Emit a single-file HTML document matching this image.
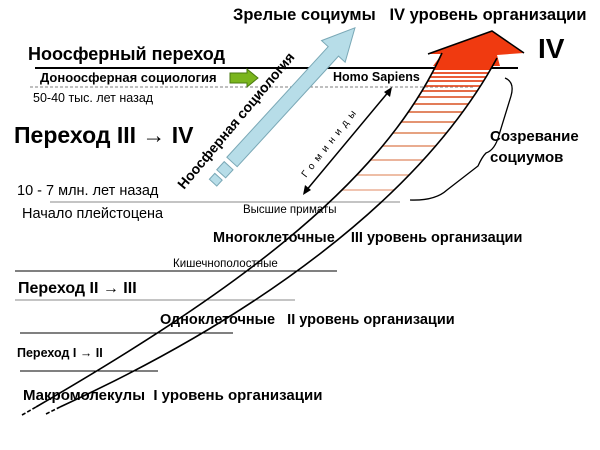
<!DOCTYPE html>
<html><head><meta charset="utf-8"><style>
html,body{margin:0;padding:0;background:#fff;}
svg{display:block;font-family:"Liberation Sans",Arial,sans-serif;}
text{white-space:pre;}
</style></head><body>
<svg width="600" height="450" viewBox="0 0 600 450" xmlns="http://www.w3.org/2000/svg">
<defs>
<clipPath id="band"><path d="M27,413 C220,300 380,190 442,53 L497,58 C420,200 250,320 50,413 Z"/></clipPath>
</defs>
<text x="233" y="20" font-size="16.5" font-weight="bold">Зрелые социумы   IV уровень организации</text>
<text x="538" y="58" font-size="28" font-weight="bold">IV</text>
<text x="28" y="60" font-size="18" font-weight="bold">Ноосферный переход</text>
<line x1="35" y1="68" x2="518" y2="68" stroke="#000" stroke-width="2"/>
<line x1="30" y1="87" x2="475" y2="87" stroke="#555" stroke-width="0.8" stroke-dasharray="3,2"/>
<text x="40" y="82" font-size="13" font-weight="bold">Доноосферная социология</text>
<polygon points="230,73 247,73 247,69 258,78 247,87 247,83 230,83" fill="#7ab51d" stroke="#4a7a10" stroke-width="1"/>
<text x="33" y="102" font-size="12.5">50-40 тыс. лет назад</text>
<text x="333" y="81" font-size="12.5" font-weight="bold">Homo Sapiens</text>
<text x="14" y="143" font-size="23" font-weight="bold">Переход III → IV</text>
<text x="17" y="195" font-size="14.5">10 - 7 млн. лет назад</text>
<line x1="50" y1="202" x2="400" y2="202" stroke="#888" stroke-width="1"/>
<text x="22" y="218" font-size="14.5">Начало плейстоцена</text>
<text x="243" y="213" font-size="11.5">Высшие приматы</text>
<text x="213" y="242" font-size="14.5" font-weight="bold">Многоклеточные    III уровень организации</text>
<text x="173" y="267" font-size="11.5">Кишечнополостные</text>
<line x1="15" y1="271" x2="337" y2="271" stroke="#000" stroke-width="1"/>
<text x="18" y="293" font-size="16" font-weight="bold">Переход II → III</text>
<line x1="15" y1="300" x2="295" y2="300" stroke="#888" stroke-width="1"/>
<text x="160" y="324" font-size="14.5" font-weight="bold">Одноклеточные   II уровень организации</text>
<line x1="20" y1="333" x2="233" y2="333" stroke="#000" stroke-width="1"/>
<text x="17" y="357" font-size="12.5" font-weight="bold">Переход I → II</text>
<line x1="20" y1="371" x2="158" y2="371" stroke="#000" stroke-width="1"/>
<text x="23" y="400" font-size="15" font-weight="bold">Макромолекулы  I уровень организации</text>
<text x="490" y="141" font-size="15" font-weight="bold">Созревание</text>
<text x="490" y="162" font-size="15" font-weight="bold">социумов</text>
<g clip-path="url(#band)">
<rect x="380" y="40" width="140" height="30" fill="#f03a10"/>
<g stroke-width="1.8">
<line x1="300" y1="73" x2="520" y2="73" stroke="#e8421a"/>
<line x1="300" y1="77" x2="520" y2="77" stroke="#e8461e"/>
<line x1="300" y1="81" x2="520" y2="81" stroke="#e54a22"/>
<line x1="300" y1="86" x2="520" y2="86" stroke="#e55028"/>
<line x1="300" y1="91" x2="520" y2="91" stroke="#e0582e"/>
<line x1="300" y1="97" x2="520" y2="97" stroke="#e06036"/>
<line x1="300" y1="104" x2="520" y2="104" stroke="#de6a40"/>
<line x1="300" y1="112" x2="520" y2="112" stroke="#de764e"/>
<line x1="300" y1="122" x2="520" y2="122" stroke="#e0845e"/>
<line x1="300" y1="133" x2="520" y2="133" stroke="#e2946e"/>
<line x1="300" y1="146" x2="520" y2="146" stroke="#e6a080"/>
<line x1="300" y1="160" x2="520" y2="160" stroke="#e8aa8e"/>
<line x1="300" y1="175" x2="520" y2="175" stroke="#ebb49a"/>
<line x1="300" y1="190" x2="520" y2="190" stroke="#eebca6"/>
</g>
</g>
<polygon points="428,54 492,31 524,53 497,55 500,66 433,66 442,54" fill="#f03a10"/>
<polyline points="428,54 492,31 524,53" fill="none" stroke="#000" stroke-width="1.5"/>
<path d="M36,407 C220,300 380,190 442,53" fill="none" stroke="#000" stroke-width="1.6"/>
<path d="M60,407 C250,320 420,200 497,58" fill="none" stroke="#000" stroke-width="1.6"/>
<line x1="22" y1="415" x2="36" y2="407" stroke="#000" stroke-width="1.6" stroke-dasharray="4,2"/>
<line x1="46" y1="414" x2="60" y2="407" stroke="#000" stroke-width="1.6" stroke-dasharray="4,2"/>
<path d="M505,78 Q515,82 511,96 L499,135 Q495,150 486,153 Q482,157 478,166 L447,190 Q435,201 410,200" fill="none" stroke="#000" stroke-width="1.3"/>
<line x1="305" y1="192" x2="390" y2="90" stroke="#000" stroke-width="1.5"/>
<polygon points="303,195 305,185 311,190" fill="#000"/>
<polygon points="392,87 390,97 384,92" fill="#000"/>
<text transform="translate(306,178) rotate(-52)" font-size="10" letter-spacing="5">Гоминиды</text>
<g transform="translate(232,162) rotate(-47.5)" fill="#b7dde8" stroke="#7aa8b6" stroke-width="1">
<polygon points="0,-7 150,-7 150,-16 182,0 150,16 150,7 0,7"/>
<rect x="-16" y="-6" width="11" height="12"/>
<rect x="-28" y="-5" width="8" height="10"/>
</g>
<text transform="translate(184,190) rotate(-50)" font-size="14" font-weight="bold">Ноосферная социология</text>
</svg>
</body></html>
